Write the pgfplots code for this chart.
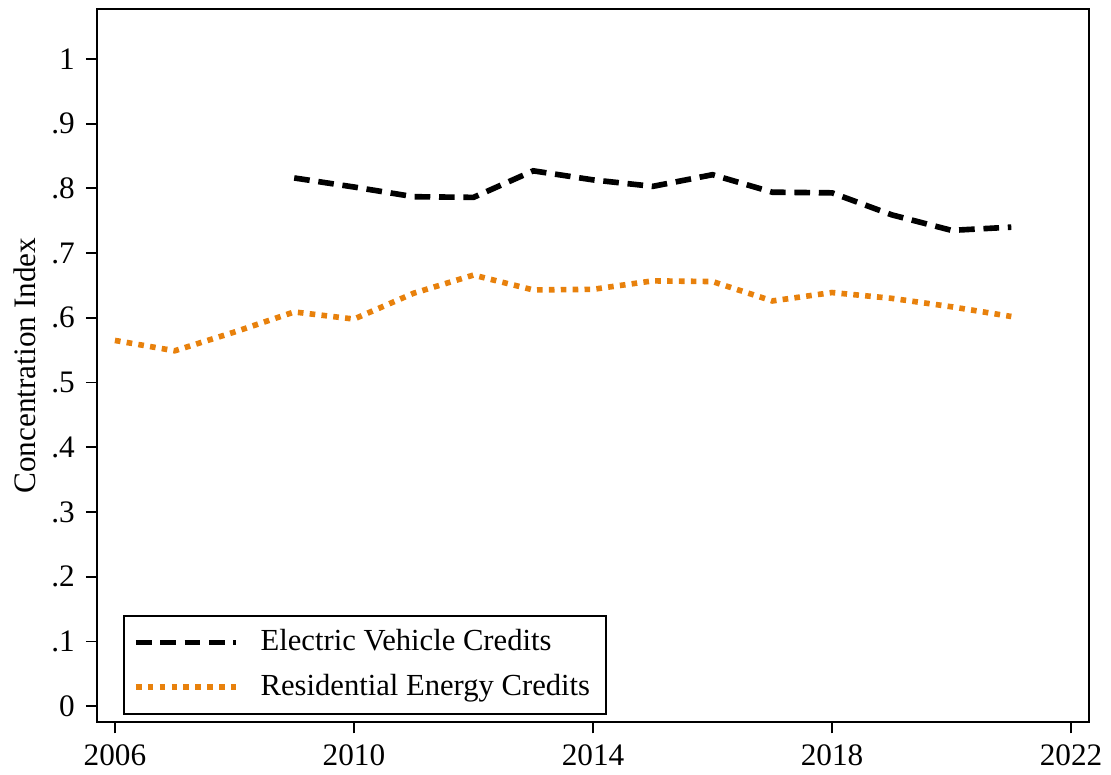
\documentclass[border=0pt]{standalone}
\usepackage{fontspec}
\setmainfont{Liberation Serif}
\usepackage{pgfplots}
\pgfplotsset{compat=1.18}
\definecolor{evblack}{RGB}{0,0,0}
\definecolor{resorange}{RGB}{232,129,12}

\begin{document}
\begin{tikzpicture}
\begin{axis}[
    name=ax,
    scale only axis,
    width=317.4pt,
    height=228.2pt,
    xmin=2005.7, xmax=2022.3,
    ymin=-0.0247, ymax=1.077,
    xtick={2006,2010,2014,2018,2022},
    xticklabels={2006,2010,2014,2018,2022},
    ytick={0,0.1,0.2,0.3,0.4,0.5,0.6,0.7,0.8,0.9,1},
    yticklabels={0,.1,.2,.3,.4,.5,.6,.7,.8,.9,1},
    tick align=outside,
    tick pos=left,
    major tick length=3.6pt,
    axis line style={line width=0.6pt},
    every tick/.style={line width=0.6pt, black},
    ylabel={Concentration Index},
    ylabel style={yshift=-2pt},
    tick label style={font=\fontsize{10}{12}\selectfont},
    label style={font=\fontsize{10}{12}\selectfont},
    legend style={
        at={(0.026,0.0105)}, anchor=south west,
        draw=black, line width=0.6pt,
        font=\fontsize{9.8}{12}\selectfont,
        row sep=1.8pt,
        inner xsep=3pt, inner ysep=2.5pt,
    },
    legend cell align=left,
    legend image code/.code={\draw[#1] (0pt,0pt) -- (32pt,0pt); \path (37pt,0pt);},
]
\addplot[evblack, line width=1.8pt, dash pattern=on 5pt off 2.8pt] coordinates {
(2009,0.816) (2010,0.802) (2011,0.787) (2012,0.786) (2013,0.827)
(2014,0.813) (2015,0.803) (2016,0.821) (2017,0.794) (2018,0.793)
(2019,0.759) (2020,0.735) (2021,0.740)
};
\addlegendentry{Electric Vehicle Credits}
\addplot[resorange, line width=1.8pt, dash pattern=on 1.8pt off 2pt] coordinates {
(2006,0.565) (2007,0.549) (2008,0.578) (2009,0.609) (2010,0.598)
(2011,0.638) (2012,0.666) (2013,0.643) (2014,0.644) (2015,0.657)
(2016,0.656) (2017,0.626) (2018,0.639) (2019,0.630) (2020,0.617)
(2021,0.602)
};
\addlegendentry{Residential Energy Credits}
\end{axis}
\pgfresetboundingbox
\path[use as bounding box] ([shift={(-31.04pt,-16.64pt)}]ax.south west) rectangle ([shift={(7.04pt,2.88pt)}]ax.north east);
\end{tikzpicture}
\end{document}
